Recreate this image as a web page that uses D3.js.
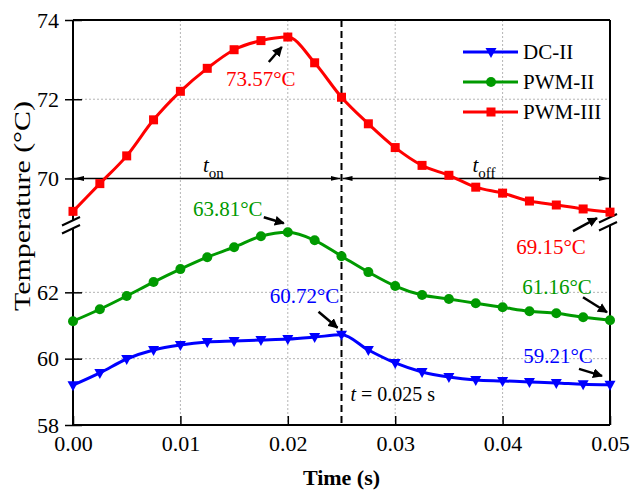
<!DOCTYPE html>
<html>
<head>
<meta charset="utf-8">
<script src="https://cdn.jsdelivr.net/npm/d3@7"></script>
<style>
  body { margin: 0; background: #fff; }
  svg text { font-family: "Liberation Serif", "Times New Roman", Tinos, "DejaVu Serif", serif !important; }
</style>
</head>
<body>
<div id="chart"></div>
<script>
// data
const time = [0, 0.0025, 0.005, 0.0075, 0.01, 0.0125, 0.015, 0.0175, 0.02, 0.0225, 0.025,
  0.0275, 0.03, 0.0325, 0.035, 0.0375, 0.04, 0.0425, 0.045, 0.0475, 0.05];
const dc2 = [59.2, 59.57, 59.99, 60.26, 60.41, 60.5, 60.53, 60.56, 60.59, 60.65, 60.72,
  60.26, 59.87, 59.6, 59.45, 59.36, 59.33, 59.3, 59.27, 59.23, 59.21];
const pwm2 = [61.13, 61.49, 61.89, 62.31, 62.7, 63.06, 63.36, 63.69, 63.81, 63.57, 63.09,
  62.61, 62.19, 61.92, 61.8, 61.67, 61.55, 61.43, 61.37, 61.25, 61.16];
const pwm3 = [69.17, 69.87, 70.57, 71.48, 72.2, 72.78, 73.25, 73.48, 73.57, 72.92, 72.05,
  71.38, 70.78, 70.33, 70.08, 69.78, 69.63, 69.43, 69.33, 69.23, 69.15];
const seriesNames = ["DC-II", "PWM-II", "PWM-III"];
const xTicks = [0, 0.01, 0.02, 0.03, 0.04, 0.05];
const yTicksUpper = [70, 72, 74];
const yTicksLower = [58, 60, 62];
const switchTime = 0.025;

const width = 630, height = 493;
const pLeft = 73, pRight = 610, pTop = 20, pBottom = 425, breakY = 226;
const serif = '"Liberation Serif", "Times New Roman", Tinos, "DejaVu Serif", serif';

const svg = d3.select("#chart").append("svg")
  .attr("width", width).attr("height", height)
  .attr("font-family", serif);

const x = d3.scaleLinear().domain([0, 0.05]).range([pLeft, pRight]);
const yUp = d3.scaleLinear().domain([68.8, 74]).range([breakY, pTop]);
const yLow = d3.scaleLinear().domain([58, 64]).range([pBottom, breakY]);
const y = v => (v >= 68.8 ? yUp(v) : yLow(v));

const colors = { "DC-II": "#0000ff", "PWM-II": "#009a00", "PWM-III": "#ff0000" };
const values = { "DC-II": dc2, "PWM-II": pwm2, "PWM-III": pwm3 };

// arrowheads
const defs = svg.append("defs");
defs.append("marker").attr("id", "head")
  .attr("viewBox", "0 0 10 10").attr("refX", 9).attr("refY", 5)
  .attr("markerWidth", 4).attr("markerHeight", 4).attr("orient", "auto")
  .attr("markerUnits", "strokeWidth")
  .append("path").attr("d", "M0,0 L10,5 L0,10 Z").attr("fill", "#000");
defs.append("marker").attr("id", "longhead")
  .attr("viewBox", "0 0 16 8").attr("refX", 16).attr("refY", 4)
  .attr("markerWidth", 10).attr("markerHeight", 5).attr("orient", "auto-start-reverse")
  .attr("markerUnits", "userSpaceOnUse")
  .append("path").attr("d", "M0,0 L16,4 L0,8 Z").attr("fill", "#000");

// gridlines
const grid = svg.append("g").attr("stroke", "#b4b4b4").attr("stroke-width", 1)
  .attr("stroke-dasharray", "2,2");
grid.selectAll("line.gx").data(xTicks.slice(1, -1)).join("line")
  .attr("x1", d => x(d)).attr("x2", d => x(d)).attr("y1", pTop).attr("y2", pBottom);
grid.selectAll("line.gy").data([72, 62, 60]).join("line")
  .attr("x1", pLeft).attr("x2", pRight).attr("y1", d => y(d)).attr("y2", d => y(d));

// axes
const yAxisUp = svg.append("g").attr("transform", `translate(${pLeft},0)`)
  .call(d3.axisLeft(yUp).tickValues(yTicksUpper).tickSize(8).tickPadding(6).tickFormat(d3.format("d")));
const yAxisLow = svg.append("g").attr("transform", `translate(${pLeft},0)`)
  .call(d3.axisLeft(yLow).tickValues(yTicksLower).tickSize(8).tickPadding(6).tickFormat(d3.format("d")));
[yAxisUp, yAxisLow].forEach(g => {
  g.attr("font-family", serif).attr("font-size", 22);
  g.select(".domain").remove();
  g.selectAll(".tick line").attr("x1", 9).attr("stroke-width", 1.5);
  g.selectAll(".tick text").attr("fill", "#000");
});
const xAxis = svg.append("g").attr("transform", `translate(0,${pBottom})`)
  .call(d3.axisBottom(x).tickValues(xTicks).tickSize(-9).tickPadding(10).tickFormat(d3.format(".2f")));
xAxis.attr("font-family", serif).attr("font-size", 22);
xAxis.select(".domain").remove();
xAxis.selectAll(".tick line").attr("stroke-width", 1.5);
xAxis.selectAll(".tick text").attr("fill", "#000");

// frame with broken vertical sides
const frame = svg.append("g").attr("stroke", "#000").attr("stroke-width", 2).attr("fill", "none");
frame.append("line").attr("x1", pLeft).attr("x2", pRight).attr("y1", pTop).attr("y2", pTop);
frame.append("line").attr("x1", pLeft).attr("x2", pRight).attr("y1", pBottom).attr("y2", pBottom);
frame.append("line").attr("x1", pLeft).attr("x2", pLeft).attr("y1", pTop).attr("y2", breakY - 5);
frame.append("line").attr("x1", pLeft).attr("x2", pLeft).attr("y1", breakY + 3).attr("y2", pBottom);
frame.append("line").attr("x1", pRight).attr("x2", pRight).attr("y1", pTop).attr("y2", breakY - 8);
frame.append("line").attr("x1", pRight).attr("x2", pRight).attr("y1", breakY).attr("y2", pBottom);

// break marks
const brk = svg.append("g").attr("stroke", "#000").attr("stroke-width", 2);
[[pLeft - 1, breakY - 1], [pRight - 1, breakY - 4]].forEach(([cx, cy]) => {
  [-4, 4].forEach(o => {
    brk.append("line").attr("x1", cx - 10).attr("y1", cy + o + 4.5)
      .attr("x2", cx + 8).attr("y2", cy + o - 4);
  });
});

// switching instant
svg.append("line")
  .attr("x1", x(switchTime)).attr("x2", x(switchTime)).attr("y1", pTop).attr("y2", pBottom)
  .attr("stroke", "#000").attr("stroke-width", 2).attr("stroke-dasharray", "7,4");

// t_on / t_off double arrows
const arrY = yUp(70);
[[0, switchTime], [switchTime, 0.05]].forEach(([a, b]) => {
  svg.append("line")
    .attr("x1", x(a) + 1).attr("x2", x(b) - 1).attr("y1", arrY).attr("y2", arrY)
    .attr("stroke", "#000").attr("stroke-width", 1.5)
    .attr("marker-start", "url(#longhead)").attr("marker-end", "url(#longhead)");
});
function tLabel(px, sub) {
  const t = svg.append("text").attr("x", px).attr("y", arrY - 6).attr("font-size", 21).attr("fill", "#000");
  t.append("tspan").attr("font-style", "italic").text("t");
  t.append("tspan").attr("font-size", 15).attr("dy", 6).text(sub);
}
tLabel(x(0.0121), "on");
tLabel(x(0.0372), "off");

// series
const line = d3.line().x((d, i) => x(time[i])).y(d => y(d)).curve(d3.curveMonotoneX);
const symbols = { "DC-II": "tri", "PWM-II": "circle", "PWM-III": "square" };
function drawSymbol(g, kind, cx, cy, color) {
  if (kind === "square") {
    g.append("rect").attr("x", cx - 4.5).attr("y", cy - 4.5).attr("width", 9).attr("height", 9).attr("fill", color);
  } else if (kind === "circle") {
    g.append("circle").attr("cx", cx).attr("cy", cy).attr("r", 5).attr("fill", color);
  } else {
    g.append("path").attr("d", `M${cx - 5.5},${cy - 4} L${cx + 5.5},${cy - 4} L${cx},${cy + 6} Z`).attr("fill", color);
  }
}
seriesNames.forEach(name => {
  const g = svg.append("g");
  g.append("path").datum(values[name]).attr("d", line)
    .attr("fill", "none").attr("stroke", colors[name]).attr("stroke-width", 3);
  values[name].forEach((v, i) => drawSymbol(g, symbols[name], x(time[i]), y(v), colors[name]));
});

// annotations: [series, index, label, tail dx/dy, tip dx/dy, label dx/dy]
const notes = [
  ["PWM-III", 8, "73.57°C", [-19, 25], [-6, 10], [-27, 42]],
  ["PWM-II", 8, "63.81°C", [-24, -15], [-4, -9], [-60, -24]],
  ["DC-II", 10, "60.72°C", [-23, -23], [-4, -7], [-37, -39]],
  ["PWM-III", 20, "69.15°C", [-37, 19], [-13, 6], [-59, 35]],
  ["PWM-II", 20, "61.16°C", [-27, -23], [-3, -8], [-53, -34]],
  ["DC-II", 20, "59.21°C", [-31, -16], [-8, -9], [-52, -29]]
];
notes.forEach(([name, i, label, tail, tip, lab]) => {
  const px = x(time[i]), py = y(values[name][i]);
  svg.append("line")
    .attr("x1", px + tail[0]).attr("y1", py + tail[1])
    .attr("x2", px + tip[0]).attr("y2", py + tip[1])
    .attr("stroke", "#000").attr("stroke-width", 2.5).attr("marker-end", "url(#head)");
  svg.append("text").attr("x", px + lab[0]).attr("y", py + lab[1]).attr("dy", "0.35em")
    .attr("text-anchor", "middle").attr("font-size", 21).attr("fill", colors[name]).text(label);
});

// t = 0.025 s
const tt = svg.append("text").attr("x", x(switchTime) + 9).attr("y", 401).attr("font-size", 20).attr("fill", "#000");
tt.append("tspan").attr("font-style", "italic").text("t");
tt.append("tspan").text(" = 0.025 s");

// legend
const legend = svg.append("g");
seriesNames.forEach((name, i) => {
  const ly = 52 + i * 30;
  legend.append("line").attr("x1", 463).attr("x2", 518).attr("y1", ly).attr("y2", ly)
    .attr("stroke", colors[name]).attr("stroke-width", 3);
  drawSymbol(legend, symbols[name], 491, ly, colors[name]);
  legend.append("text").attr("x", 523).attr("y", ly).attr("dy", "0.35em")
    .attr("font-size", 21).attr("fill", "#000").text(name);
});

// axis titles
svg.append("text").attr("x", (pLeft + pRight) / 2).attr("y", 485)
  .attr("text-anchor", "middle").attr("font-size", 22).attr("font-weight", "bold").text("Time (s)");
svg.append("text").attr("transform", "translate(30,206) rotate(-90)")
  .attr("text-anchor", "middle").attr("font-size", 24)
  .attr("textLength", 210).attr("lengthAdjust", "spacingAndGlyphs").text("Temperature (°C)");
</script>
</body>
</html>
